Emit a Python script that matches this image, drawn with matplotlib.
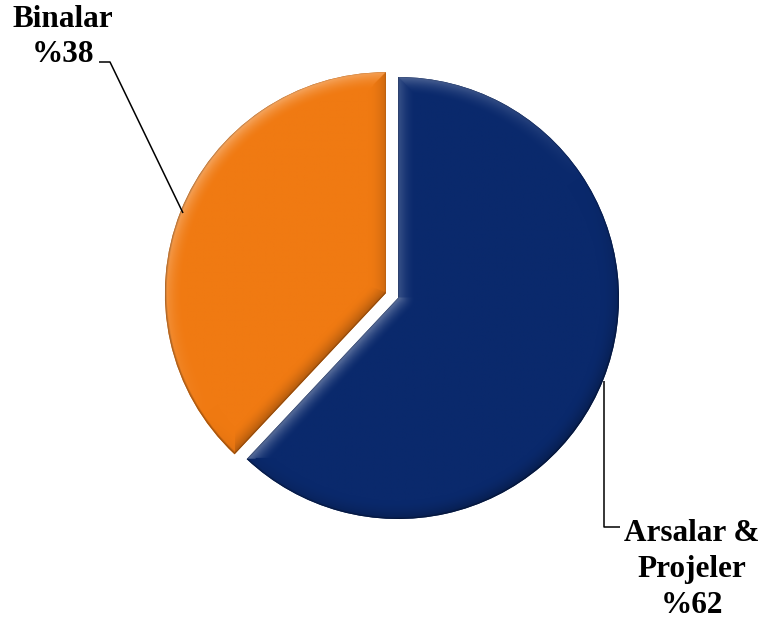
import numpy as np
import matplotlib
matplotlib.use("Agg")
import matplotlib.pyplot as plt
from matplotlib.colors import to_rgb

# ---- data ----
categories = ["Arsalar &\nProjeler", "Binalar"]
values = [62, 38]
value_labels = ["%62", "%38"]
colors = ["#0A296C", "#F07A12"]
explode = [0.0, 0.059]

W, H = 766, 620
fig = plt.figure(figsize=(W / 100, H / 100), dpi=100)
ax = fig.add_axes([0, 0, 1, 1])

# pixel -> data mapping (pie center at pixel (398, 298), radius 221 px)
CX, CY, R = 398.0, 298.0, 221.0
def px(x, y):
    return ((x - CX) / R, (CY - y) / R)

wedges, _ = ax.pie(values, colors=colors, startangle=90, counterclock=False,
                   explode=explode, radius=1.0, center=(0, 0),
                   wedgeprops=dict(linewidth=0))

ax.set_aspect("auto")
ax.axis("off")

# ---- bevel shading clipped to each wedge ----
L = np.array([-0.55, 0.83])
L = L / np.linalg.norm(L)
bw = 0.08
for w, col in zip(wedges, colors):
    cx, cy = w.center
    r0 = w.r
    t1, t2 = np.deg2rad(w.theta1), np.deg2rad(w.theta2)
    tm = 0.5 * (t1 + t2)
    v = np.array([np.cos(tm), np.sin(tm)])
    n = 500
    xs = np.linspace(cx - r0, cx + r0, n)
    ys = np.linspace(cy - r0, cy + r0, n)
    X, Y = np.meshgrid(xs, ys)
    QX, QY = X - cx, Y - cy
    rr = np.hypot(QX, QY) + 1e-12
    d_best = r0 - rr
    nx = QX / rr
    ny = QY / rr
    for a in (t1, t2):
        u = np.array([np.cos(a), np.sin(a)])
        nrm = np.array([-u[1], u[0]])
        if nrm @ v > 0:
            nrm = -nrm
        proj = QX * u[0] + QY * u[1]
        perp = np.abs(QX * u[1] - QY * u[0])
        d = np.where(proj > 0, perp, rr)
        m = d < d_best
        d_best = np.where(m, d, d_best)
        nx = np.where(m, nrm[0], nx)
        ny = np.where(m, nrm[1], ny)
    fac = np.clip(1 - d_best / bw, 0, 1) ** 1.8
    shade = (nx * L[0] + ny * L[1]) * fac
    shade = np.where(shade > 0, shade * 0.36, shade * 0.28)
    base = np.array(to_rgb(col))
    img = np.empty(X.shape + (3,))
    for k in range(3):
        c = base[k]
        img[..., k] = np.where(shade > 0, c + (1 - c) * shade, c * (1 + shade))
    rim = np.clip(1 - d_best / 0.007, 0, 1)
    img = img * (1 - 0.3 * rim[..., None])
    im = ax.imshow(np.clip(img, 0, 1), extent=(xs[0], xs[-1], ys[0], ys[-1]),
                   origin="lower", interpolation="bilinear", zorder=2,
                   aspect="auto")
    im.set_clip_path(w)

ax.set_xlim(px(0, 0)[0], px(W, 0)[0])
ax.set_ylim(px(0, H)[1], px(0, 0)[1])

# ---- leader lines ----
lx, ly = zip(px(183, 213), px(110, 62), px(99, 62))
ax.plot(lx, ly, color="black", lw=1.1, zorder=3, solid_capstyle="butt")
lx, ly = zip(px(604, 381), px(604, 527), px(620, 527))
ax.plot(lx, ly, color="black", lw=1.1, zorder=3, solid_capstyle="butt")

# ---- labels ----
font = dict(family="Liberation Serif", weight="bold", size=22.5, color="black")
ax.text(*px(63, 62), f"{categories[1]}\n{value_labels[1]}", ha="center",
        va="baseline", linespacing=1.28, **font)
ax.text(*px(692, 613), f"{categories[0]}\n{value_labels[0]}", ha="center",
        va="baseline", linespacing=1.32, **font)

fig.savefig("out.png", dpi=100)
